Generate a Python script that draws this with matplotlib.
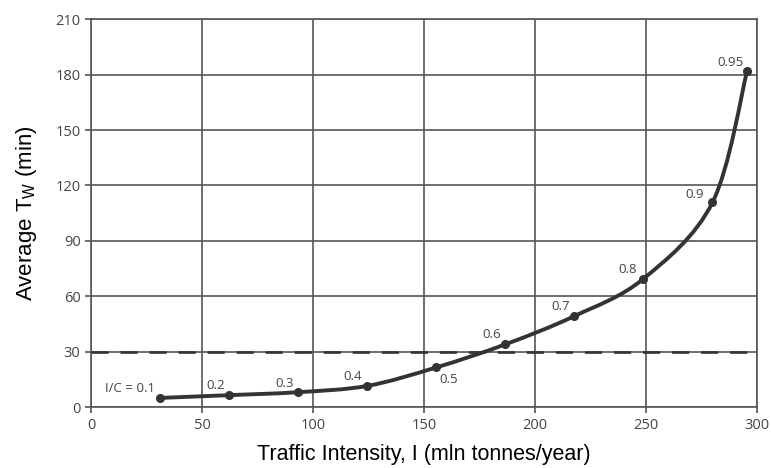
import matplotlib.pyplot as plt
from matplotlib.path import Path
from matplotlib.patches import PathPatch

# I/C ratio, traffic intensity (mln t/year) and average waiting time (min)
ratio_labels = ["I/C = 0.1", "0.2", "0.3", "0.4", "0.5", "0.6", "0.7", "0.8", "0.9", "0.95"]
intensity = [31.1, 62.2, 93.3, 124.4, 155.5, 186.6, 217.7, 248.8, 279.9, 295.5]
waiting = [5.0, 6.5, 8.1, 11.5, 21.5, 34.0, 49.3, 69.5, 110.8, 182.0]
label_pos = [(29, 10.3), (56, 11.9), (87.2, 13.0), (118, 16.4), (161, 15.2),
             (180.4, 39.4), (211.7, 54.5), (241.9, 74.4), (272, 115.2), (287.8, 186.4)]
limit_line = 30


def smooth_path(xs, ys, k=1 / 6):
    # Catmull-Rom style bezier through the points
    verts = [(xs[0], ys[0])]
    codes = [Path.MOVETO]
    n = len(xs)
    for i in range(n - 1):
        x0, y0 = xs[max(i - 1, 0)], ys[max(i - 1, 0)]
        x1, y1 = xs[i], ys[i]
        x2, y2 = xs[i + 1], ys[i + 1]
        x3, y3 = xs[min(i + 2, n - 1)], ys[min(i + 2, n - 1)]
        verts += [(x1 + (x2 - x0) * k, y1 + (y2 - y0) * k),
                  (x2 - (x3 - x1) * k, y2 - (y3 - y1) * k),
                  (x2, y2)]
        codes += [Path.CURVE4] * 3
    return Path(verts, codes)


fig = plt.figure(figsize=(7.71, 4.68), dpi=100)
ax = fig.add_axes([0.118, 0.130, 0.864, 0.829])

ax.add_patch(PathPatch(smooth_path(intensity, waiting), fill=False,
                       edgecolor="#333333", lw=2.8, zorder=3, capstyle="round"))
ax.plot(intensity, waiting, ls="none", color="#333333", marker="o", ms=5.5, zorder=4)
ax.axhline(limit_line, color="#333333", lw=1.9, ls=(0, (6.5, 4.5)), zorder=2)

for txt, (lx, ly) in zip(ratio_labels, label_pos):
    ha = "right" if txt.startswith("I/C") else "center"
    ax.text(lx, ly, txt, ha=ha, va="center", fontsize=9.5, color="#444444",
            family="Open Sans")

ax.set_xlim(0, 300)
ax.set_ylim(0, 210)
ax.set_xticks(range(0, 301, 50))
ax.set_yticks(range(0, 211, 30))
ax.grid(True, color="#555555", lw=1.2)
ax.set_axisbelow(True)
for s in ax.spines.values():
    s.set_color("#555555")
    s.set_linewidth(1.2)
ax.tick_params(colors="#555555", labelsize=10.5, length=4, width=1.2, labelcolor="#444444")
for lab in ax.get_xticklabels() + ax.get_yticklabels():
    lab.set_family("Open Sans")

ax.set_xlabel("Traffic Intensity, I (mln tonnes/year)", fontsize=15.5,
              family="Liberation Sans", labelpad=8)
ax.set_ylabel("Average T$_{\\mathregular{W}}$ (min)", fontsize=16,
              family="Liberation Sans", labelpad=12)

fig.savefig("out.png", dpi=100)
